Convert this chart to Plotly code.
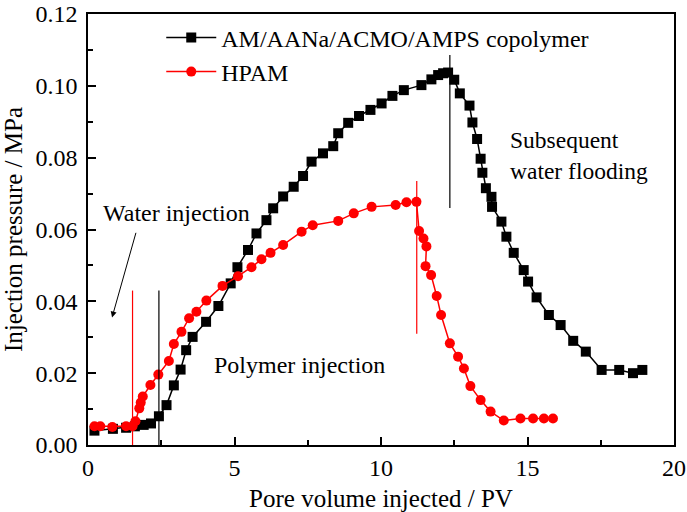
import plotly.graph_objects as go

# ---- data ----
copolymer_pv = [0.22, 0.85, 1.3, 1.6, 1.9, 2.15, 2.42, 2.68, 2.93, 3.16, 3.35, 3.57, 4.03, 4.45,
                4.87, 5.1, 5.46, 5.75, 6.09, 6.32, 6.66, 7.02, 7.34, 7.63, 8.02, 8.37, 8.54, 8.88,
                9.25, 9.64, 10.02, 10.39, 10.78, 11.38, 11.72, 11.95, 12.12, 12.29, 12.5, 12.69,
                13.02, 13.12, 13.28, 13.4, 13.46, 13.58, 13.77, 13.79, 14.11, 14.28, 14.53, 14.87,
                15.02, 15.31, 15.73, 16.13, 16.56, 16.99, 17.53, 18.13, 18.6, 18.92]
copolymer_p = [0.0040, 0.0045, 0.0048, 0.0052, 0.0056, 0.0060, 0.0080, 0.0111, 0.0166, 0.0210,
               0.0264, 0.0301, 0.0343, 0.0387, 0.0450, 0.0495, 0.0543, 0.0589, 0.0626, 0.0659,
               0.0692, 0.0719, 0.0749, 0.0789, 0.0812, 0.0832, 0.0868, 0.0897, 0.0916, 0.0933,
               0.0951, 0.0972, 0.0988, 0.1002, 0.1018, 0.1030, 0.1035, 0.1037, 0.1017, 0.0979,
               0.0945, 0.0898, 0.0852, 0.0797, 0.0758, 0.0715, 0.0691, 0.0663, 0.0622, 0.0580,
               0.0535, 0.0487, 0.0455, 0.0411, 0.0362, 0.0334, 0.0290, 0.0260, 0.0209, 0.0209,
               0.0200, 0.0209]

hpam_pv = [0.22, 0.42, 0.83, 1.3, 1.52, 1.62, 1.75, 1.8, 1.87, 2.13, 2.4, 2.76, 2.93, 3.19, 3.45,
           3.7, 4.04, 4.59, 5.12, 5.58, 5.92, 6.23, 6.66, 7.29, 7.67, 8.54, 9.07, 9.68, 10.5,
           10.87, 11.21, 11.3, 11.45, 11.55, 11.52, 11.71, 11.9, 12.05, 12.35, 12.63, 12.83,
           13.05, 13.4, 13.74, 14.19, 14.76, 15.19, 15.56, 15.87]
hpam_p = [0.0052, 0.0052, 0.0050, 0.0052, 0.0052, 0.0066, 0.0102, 0.0118, 0.0135, 0.0167, 0.0196,
          0.0234, 0.0281, 0.0315, 0.0353, 0.0371, 0.0402, 0.0443, 0.0470, 0.0495, 0.0517, 0.0535,
          0.0557, 0.0594, 0.0612, 0.0624, 0.0645, 0.0663, 0.0668, 0.0676, 0.0677, 0.0596, 0.0575,
          0.0553, 0.0498, 0.0473, 0.0415, 0.0362, 0.0283, 0.0246, 0.0213, 0.0164, 0.0125, 0.0093,
          0.0068, 0.0074, 0.0074, 0.0074, 0.0074]

series_names = ["AM/AANa/ACMO/AMPS copolymer", "HPAM"]

# phase-boundary markers: (pv, p_low, p_high, colour)
boundary_pv = [1.52, 2.42, 11.22, 12.35]
boundary_low = [0.0, 0.0, 0.031, 0.066]
boundary_high = [0.043, 0.043, 0.0735, 0.1086]
boundary_color = ["red", "black", "red", "black"]

x_ticks = [0, 5, 10, 15, 20]
y_ticks = [0.00, 0.02, 0.04, 0.06, 0.08, 0.10, 0.12]

FONT = "Liberation Serif, Times New Roman, serif"
ANN = 24
TICK = 24
TITLE = 25

fig = go.Figure()
fig.add_trace(go.Scatter(
    x=copolymer_pv, y=copolymer_p, mode="lines+markers", name=series_names[0],
    line=dict(color="black", width=1.5),
    marker=dict(symbol="square", size=10, color="black")))
fig.add_trace(go.Scatter(
    x=hpam_pv, y=hpam_p, mode="lines+markers", name=series_names[1],
    line=dict(color="red", width=1.5),
    marker=dict(symbol="circle", size=10, color="red")))

for xv, lo, hi, c in zip(boundary_pv, boundary_low, boundary_high, boundary_color):
    fig.add_shape(type="line", xref="x", yref="y", x0=xv, x1=xv, y0=lo, y1=hi,
                  line=dict(color=c, width=1.2))

fig.add_annotation(x=3.03, y=0.0646, text="Water injection", showarrow=False,
                   xref="x", yref="y", font=dict(size=ANN, color="black", family=FONT))
fig.add_annotation(x=0.82, y=0.0355, ax=1.65, ay=0.0595, xref="x", yref="y",
                   axref="x", ayref="y", text="", showarrow=True,
                   arrowhead=2, arrowsize=1.2, arrowwidth=1, arrowcolor="black")
fig.add_annotation(x=7.23, y=0.0223, text="Polymer injection", showarrow=False,
                   xref="x", yref="y", font=dict(size=ANN, color="black", family=FONT))
fig.add_annotation(x=14.33, y=0.0805, text="Subsequent<br>water flooding", showarrow=False,
                   xref="x", yref="y", xanchor="left", align="left",
                   font=dict(size=ANN - 0.5, color="black", family=FONT))

axis_common = dict(showgrid=False, zeroline=False, showline=True, linecolor="black",
                   linewidth=1.5, mirror=True, ticks="inside", ticklen=8, tickwidth=1.5,
                   tickcolor="black", automargin=False,
                   tickfont=dict(size=TICK, family=FONT, color="black"))

fig.update_xaxes(range=[0, 20], tickvals=x_ticks, title=dict(text="Pore volume injected / PV",
                 font=dict(size=TITLE, family=FONT, color="black"), standoff=10),
                 minor=dict(ticks="inside", ticklen=5, tickwidth=1.5, tickcolor="black", dtick=2.5),
                 **axis_common)
fig.update_yaxes(range=[0, 0.12], tickvals=y_ticks, tickformat=".2f", ticklabelstandoff=4,
                 title=dict(text="Injection pressure / MPa",
                            font=dict(size=TITLE, family=FONT, color="black"), standoff=6),
                 minor=dict(ticks="inside", ticklen=5, tickwidth=1.5, tickcolor="black", dtick=0.01),
                 **axis_common)

fig.update_layout(
    width=687, height=512,
    margin=dict(l=88, r=13, t=14, b=67),
    paper_bgcolor="white", plot_bgcolor="white",
    font=dict(family=FONT, color="black"),
    legend=dict(x=0.125, y=0.997, xanchor="left", yanchor="top",
                bgcolor="rgba(0,0,0,0)", font=dict(size=ANN, family=FONT, color="black"),
                itemwidth=50, tracegroupgap=0),
)

fig.write_html("out.html")
